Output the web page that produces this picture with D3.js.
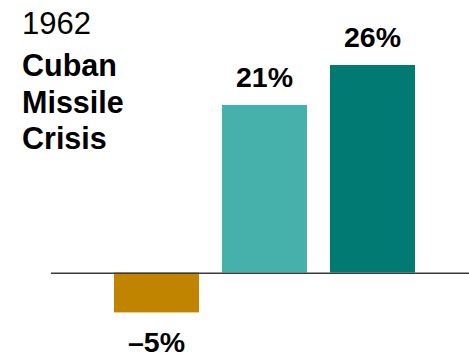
<!DOCTYPE html>
<meta charset="utf-8">
<script src="https://d3js.org/d3.v7.min.js"></script>
<style>
  body { margin: 0; background: #fff; }
  text { font-family: "Liberation Sans", Arial, sans-serif; fill: #000; }
</style>
<div id="chart"></div>
<script>
// data
var categories = ["bar1", "bar2", "bar3"];
var values = [-5, 21, 26];
var labels = ["\u20135%", "21%", "26%"];
var colors = ["#C18400", "#46B1AA", "#007A73"];
var titleLines = ["Cuban", "Missile", "Crisis"];

var width = 469, height = 357;

var svg = d3.select("#chart")
  .append("svg")
    .attr("width", width)
    .attr("height", height);

// scales
var x = d3.scaleBand()
  .domain(categories)
  .range([114, 415])
  .paddingInner(0.213)
  .paddingOuter(0);

var y = d3.scaleLinear()
  .domain([0, 26])
  .range([272.5, 65]);

// bars
svg.selectAll(".bar")
  .data(values)
  .enter().append("rect")
    .attr("class", "bar")
    .attr("x", function(d, i) { return x(categories[i]); })
    .attr("y", function(d) { return y(Math.max(0, d)); })
    .attr("width", x.bandwidth())
    .attr("height", function(d) { return Math.abs(y(d) - y(0)); })
    .attr("fill", function(d, i) { return colors[i]; });

// zero line
svg.append("line")
  .attr("x1", 51)
  .attr("x2", width)
  .attr("y1", y(0) + 0.8)
  .attr("y2", y(0) + 0.8)
  .attr("stroke", "#3a3a3a")
  .attr("stroke-width", 1.6);

// value labels
svg.selectAll(".val")
  .data(values)
  .enter().append("text")
    .attr("class", "val")
    .attr("text-anchor", "middle")
    .attr("x", function(d, i) { return x(categories[i]) + x.bandwidth() / 2; })
    .attr("y", function(d) { return d >= 0 ? y(d) - 18 : y(d) + 39.5; })
    .style("font-size", "28.5px")
    .style("font-weight", "bold")
    .text(function(d, i) { return labels[i]; });

// title
svg.append("text")
  .attr("x", 22)
  .attr("y", 33.5)
  .style("font-size", "31px")
  .text("1962");

svg.selectAll(".title")
  .data(titleLines)
  .enter().append("text")
    .attr("class", "title")
    .attr("x", 22)
    .attr("y", function(d, i) { return 76 + i * 36.5; })
    .style("font-size", "30.5px")
    .style("font-weight", "bold")
    .text(function(d) { return d; });
</script>
